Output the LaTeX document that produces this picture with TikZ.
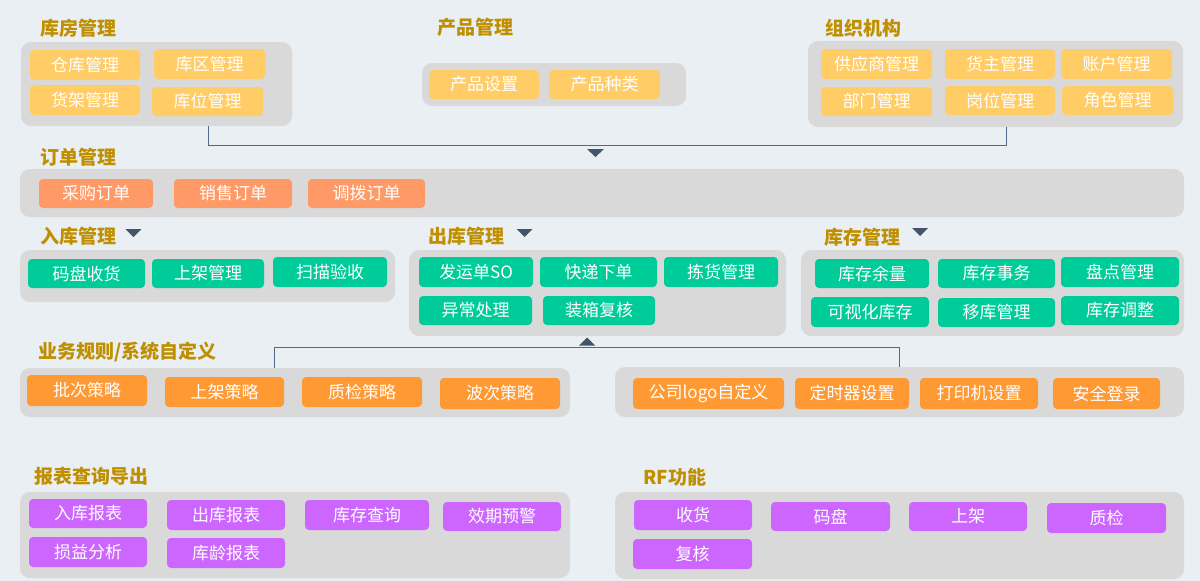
\documentclass[tikz,border=0pt]{standalone}
\usepackage{fontspec}
\setmainfont{Noto Sans CJK SC}
\usetikzlibrary{calc}
\definecolor{bgc}{HTML}{EAEFF3}
\definecolor{panelc}{HTML}{D9D9D9}
\definecolor{yelc}{HTML}{FFCC66}
\definecolor{salc}{HTML}{FF9966}
\definecolor{grnc}{HTML}{00CC99}
\definecolor{orac}{HTML}{FF9933}
\definecolor{purc}{HTML}{CC66FF}
\definecolor{ttlc}{HTML}{BF8F00}
\definecolor{connc}{HTML}{52678F}
\definecolor{tric}{HTML}{44546A}
\newcommand\mkbox[7][]{\node[#1, minimum width={(#5-#3)*1pt}, minimum height={(#6-#4)*1pt}] (#2) at ({(#3+#5)/2},{(#4+#6)/2}) {#7};}
\begin{document}
\begin{tikzpicture}[x=1pt,y=-1pt,
  panel/.style={fill=panelc, rounded corners=10pt, inner sep=0pt},
  chip/.style={rounded corners=4pt, inner sep=0pt, text=white, font=\fontsize{17}{17}\selectfont},
  yel/.style={chip, fill=yelc},
  sal/.style={chip, fill=salc},
  grn/.style={chip, fill=grnc},
  ora/.style={chip, fill=orac},
  pur/.style={chip, fill=purc},
  ttl/.style={text=ttlc, font=\bfseries\fontsize{19}{19}\selectfont, anchor=west, inner sep=0pt},
  conn/.style={draw=connc, line width=1pt},
  tri/.style={fill=tric}]
\useasboundingbox (0,0) rectangle (1200,581);
\fill[bgc] (0,0) rectangle (1200,581);

% panels
\mkbox[panel]{p1}{21}{42}{292}{126}{}
\mkbox[panel]{p2}{422}{63}{686}{106}{}
\mkbox[panel]{p3}{808}{41}{1183}{127}{}
\mkbox[panel]{p4}{20}{169}{1184}{217}{}
\mkbox[panel]{p5}{20}{250}{395}{302}{}
\mkbox[panel]{p6}{409}{250}{786}{336}{}
\mkbox[panel]{p7}{801}{250}{1184}{336}{}
\mkbox[panel]{p8}{20}{368}{570}{417}{}
\mkbox[panel]{p9}{615}{367}{1184}{417}{}
\mkbox[panel]{p10}{20}{492}{570}{578}{}
\mkbox[panel]{p11}{615}{492}{1184}{579}{}

% titles
\node[ttl] (t1) at (40,28) {库房管理};
\node[ttl] (t2) at (437,27) {产品管理};
\node[ttl] (t3) at (825,28) {组织机构};
\node[ttl] (t4) at (40,157) {订单管理};
\node[ttl] (t5) at (40,236) {入库管理};
\node[ttl] (t6) at (428,236) {出库管理};
\node[ttl] (t7) at (824,237) {库存管理};
\node[ttl] (t8) at (38,352) {业务规则/系统自定义};
\node[ttl] (t9) at (34,476) {报表查询导出};
\node[ttl] (t10) at (643,477) {RF功能};

% chips
\mkbox[yel]{a1}{30}{50}{140}{80}{仓库管理}
\mkbox[yel]{a2}{154}{49}{265}{79}{库区管理}
\mkbox[yel]{a3}{30}{85}{140}{115}{货架管理}
\mkbox[yel]{a4}{152}{87}{263}{116}{库位管理}
\mkbox[yel]{b1}{429}{70}{539}{99}{产品设置}
\mkbox[yel]{b2}{549}{70}{660}{99}{产品种类}
\mkbox[yel]{c1}{821}{49}{932}{79}{供应商管理}
\mkbox[yel]{c2}{945}{49}{1055}{79}{货主管理}
\mkbox[yel]{c3}{1061}{49}{1172}{79}{账户管理}
\mkbox[yel]{c4}{821}{87}{932}{116}{部门管理}
\mkbox[yel]{c5}{945}{86}{1055}{115}{岗位管理}
\mkbox[yel]{c6}{1062}{86}{1173}{115}{角色管理}

\mkbox[sal]{d1}{39}{179}{153}{208}{采购订单}
\mkbox[sal]{d2}{174}{179}{292}{208}{销售订单}
\mkbox[sal]{d3}{308}{179}{425}{208}{调拨订单}

\mkbox[grn]{e1}{28}{259}{145}{288}{码盘收货}
\mkbox[grn]{e2}{152}{259}{264}{288}{上架管理}
\mkbox[grn]{e3}{273}{257}{387}{287}{扫描验收}
\mkbox[grn]{f1}{419}{257}{533}{287}{发运单SO}
\mkbox[grn]{f2}{540}{257}{657}{287}{快递下单}
\mkbox[grn]{f3}{664}{257}{778}{287}{拣货管理}
\mkbox[grn]{f4}{419}{296}{532}{325}{异常处理}
\mkbox[grn]{f5}{543}{296}{655}{325}{装箱复核}
\mkbox[grn]{g1}{815}{259}{929}{288}{库存余量}
\mkbox[grn]{g2}{938}{259}{1055}{288}{库存事务}
\mkbox[grn]{g3}{1061}{257}{1179}{287}{盘点管理}
\mkbox[grn]{g4}{811}{297}{929}{327}{可视化库存}
\mkbox[grn]{g5}{938}{298}{1055}{327}{移库管理}
\mkbox[grn]{g6}{1061}{296}{1179}{325}{库存调整}

\mkbox[ora]{h1}{27}{375}{147}{406}{批次策略}
\mkbox[ora]{h2}{165}{377}{284}{407}{上架策略}
\mkbox[ora]{h3}{302}{377}{422}{407}{质检策略}
\mkbox[ora]{h4}{440}{378}{560}{409}{波次策略}
\mkbox[ora]{i1}{633}{378}{784}{409}{公司logo自定义}
\mkbox[ora]{i2}{795}{378}{909}{409}{定时器设置}
\mkbox[ora]{i3}{920}{378}{1038}{409}{打印机设置}
\mkbox[ora]{i4}{1053}{378}{1160}{409}{安全登录}

\mkbox[pur]{j1}{29}{499}{147}{528}{入库报表}
\mkbox[pur]{j2}{167}{500}{285}{530}{出库报表}
\mkbox[pur]{j3}{305}{500}{429}{530}{库存查询}
\mkbox[pur]{j4}{443}{502}{561}{531}{效期预警}
\mkbox[pur]{j5}{29}{537}{147}{567}{损益分析}
\mkbox[pur]{j6}{167}{538}{285}{568}{库龄报表}
\mkbox[pur]{k1}{634}{500}{752}{530}{收货}
\mkbox[pur]{k2}{771}{502}{890}{531}{码盘}
\mkbox[pur]{k3}{909}{502}{1027}{531}{上架}
\mkbox[pur]{k4}{1047}{503}{1166}{533}{质检}
\mkbox[pur]{k5}{633}{539}{752}{569}{复核}

% connectors
\coordinate (bl) at (208,145);
\coordinate (br) at (1006,145);
\draw[conn] (p1.south -| bl) -- (bl) -- (br) -- (p3.south -| br);
\coordinate (ul) at (274,347);
\coordinate (ur) at (899,347);
\draw[conn] (p8.north -| ul) -- (ul) -- (ur) -- (p9.north -| ur);

% triangles
\coordinate (m1) at (595.5,153);
\coordinate (m2) at (133.5,233);
\coordinate (m3) at (524.5,233);
\coordinate (m4) at (920,232);
\coordinate (m5) at (587,341.5);
\fill[tri] (m1) ++(-8.5,-4) -- ++(17,0) -- ++(-8.5,8) -- cycle;
\fill[tri] (m2) ++(-8,-4) -- ++(16,0) -- ++(-8,8) -- cycle;
\fill[tri] (m3) ++(-8,-4) -- ++(16,0) -- ++(-8,8) -- cycle;
\fill[tri] (m4) ++(-8,-4) -- ++(16,0) -- ++(-8,8) -- cycle;
\fill[tri] (m5) ++(-8,4) -- ++(16,0) -- ++(-8,-8) -- cycle;
\end{tikzpicture}
\end{document}
